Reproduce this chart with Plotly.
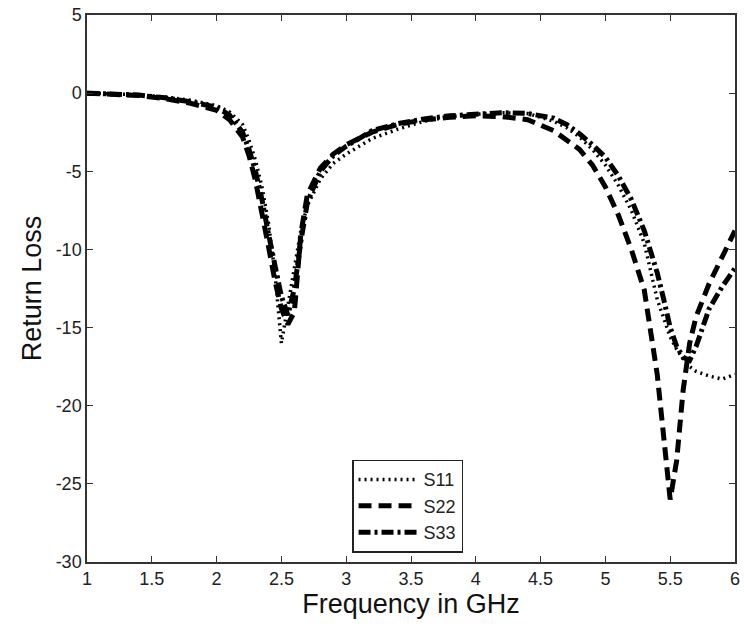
import plotly.graph_objects as go

freq = [1.0, 1.2, 1.4, 1.6, 1.8, 2.0, 2.1, 2.2, 2.25, 2.3, 2.35, 2.4, 2.45, 2.5, 2.55, 2.6, 2.65,
        2.7, 2.8, 2.9, 3.0, 3.2, 3.4, 3.6, 3.8, 4.0, 4.2, 4.4, 4.6, 4.7, 4.8, 4.9,
        5.0, 5.1, 5.2, 5.3, 5.4, 5.45, 5.5, 5.55, 5.6, 5.65, 5.7, 5.8, 5.9, 6.0]

s11 = [0.0, -0.05, -0.1, -0.25, -0.45, -0.8, -1.2, -2.0, -3.0, -4.3, -6.0, -8.3, -11.5, -16.0, -13.5, -11.0, -8.8,
       -7.2, -5.5, -4.5, -3.9, -2.9, -2.3, -1.8, -1.5, -1.35, -1.25, -1.3, -1.8, -2.2, -2.8, -3.6,
       -4.6, -5.9, -7.5, -9.6, -13.2, -14.4, -15.6, -16.4, -17.0, -17.5, -17.8, -18.1, -18.3, -18.0]

s22 = [0.0, -0.05, -0.15, -0.35, -0.65, -1.1, -1.7, -2.8, -4.0, -5.6, -7.6, -9.8, -12.0, -13.8, -14.8, -14.0, -9.0,
       -6.5, -4.8, -3.9, -3.3, -2.5, -2.0, -1.7, -1.55, -1.45, -1.5, -1.7, -2.4, -3.0, -3.6, -4.6,
       -6.0, -7.8, -10.0, -12.6, -18.0, -22.0, -26.0, -23.5, -19.0, -16.0, -14.3, -12.2, -10.5, -8.8]

s33 = [0.0, -0.05, -0.12, -0.3, -0.55, -0.9, -1.4, -2.5, -3.6, -5.0, -6.8, -9.0, -11.2, -13.0, -14.2, -12.5, -9.5,
       -7.0, -5.0, -4.0, -3.4, -2.4, -1.95, -1.65, -1.45, -1.35, -1.25, -1.3, -1.6, -2.0, -2.6, -3.3,
       -4.1, -5.3, -6.8, -8.8, -11.5, -13.2, -15.0, -16.2, -16.9, -17.1, -16.2, -13.8, -12.4, -11.2]

x_ticks = [1, 1.5, 2, 2.5, 3, 3.5, 4, 4.5, 5, 5.5, 6]
y_ticks = [5, 0, -5, -10, -15, -20, -25, -30]

FONT = "Liberation Sans, Arial"

fig = go.Figure()
fig.add_trace(go.Scatter(x=freq, y=s11, mode="lines", name="S11",
                         line=dict(color="black", width=3.5, dash="2px,4px")))
fig.add_trace(go.Scatter(x=freq, y=s22, mode="lines", name="S22",
                         line=dict(color="black", width=5, dash="13px,7px")))
fig.add_trace(go.Scatter(x=freq, y=s33, mode="lines", name="S33",
                         line=dict(color="black", width=5, dash="12px,4px,3px,4px")))

axis_common = dict(showgrid=False, zeroline=False, showline=True, linecolor="#333",
                   linewidth=1.5, mirror="ticks", ticks="inside", ticklen=6,
                   tickcolor="#333", tickfont=dict(family=FONT, size=18, color="#222"))

fig.update_xaxes(range=[1, 6], tickvals=x_ticks, ticktext=[str(v) for v in x_ticks],
                 title=dict(text="Frequency in GHz", font=dict(family=FONT, size=27, color="#111"),
                            standoff=2),
                 **axis_common)
fig.update_yaxes(range=[-30, 5], tickvals=y_ticks, ticktext=[str(v) for v in y_ticks],
                 title=dict(text="Return Loss", font=dict(family=FONT, size=27, color="#111"),
                            standoff=6),
                 **axis_common)

fig.update_layout(
    width=744, height=627,
    margin=dict(l=87, r=4, t=15, b=65),
    plot_bgcolor="white", paper_bgcolor="white",
    legend=dict(x=0.409, y=0.017, xanchor="left", yanchor="bottom",
                bordercolor="#222", borderwidth=1.5, bgcolor="white",
                font=dict(family=FONT, size=18, color="#222"),
                itemwidth=60, tracegroupgap=2),
)

fig.write_html("out.html")
